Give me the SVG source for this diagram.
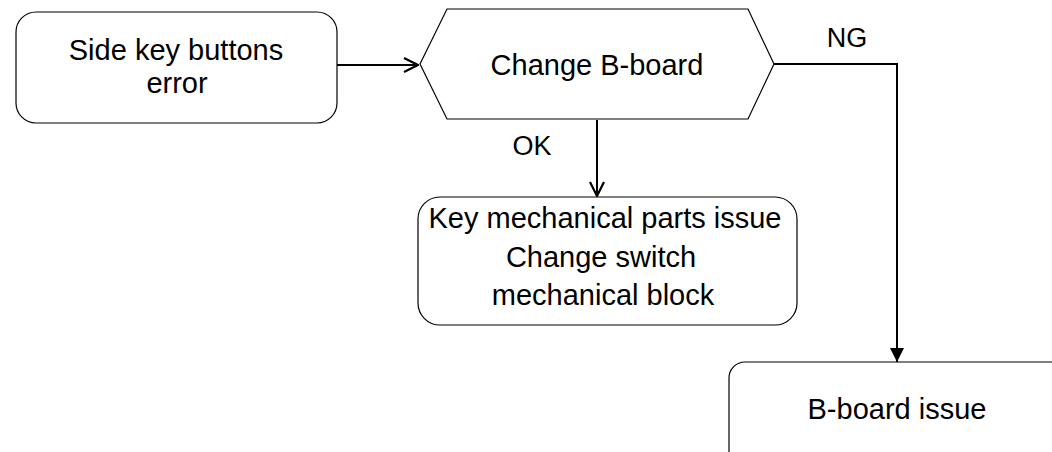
<svg xmlns="http://www.w3.org/2000/svg" width="1052" height="452" viewBox="0 0 1052 452">
<style>
.node{fill:#fff;stroke:#000;stroke-width:1.2}
.t{font-family:"Liberation Sans",Arial,sans-serif;font-size:29px;fill:#000;text-anchor:middle}
.lbl{font-family:"Liberation Sans",Arial,sans-serif;font-size:27px;fill:#000;text-anchor:middle}
.edge{fill:none;stroke:#000;stroke-width:2}
</style>
<defs>
<marker id="open" viewBox="0 0 16 16" refX="15" refY="8" markerWidth="16" markerHeight="16" markerUnits="userSpaceOnUse" orient="auto">
<path d="M1,1 L15,8 L1,15" fill="none" stroke="#000" stroke-width="2.2"/>
</marker>
<marker id="filled" viewBox="0 0 14 14" refX="14" refY="7" markerWidth="14" markerHeight="14" markerUnits="userSpaceOnUse" orient="auto">
<path d="M0,0 L14,7 L0,14 Z" fill="#000"/>
</marker>
</defs>
<rect width="1052" height="452" fill="#fff"/>
<g id="connectors">
<path class="edge" d="M337,65 L418,65" marker-end="url(#open)"/>
<path class="edge" d="M597,120 L597,196" marker-end="url(#open)"/>
<path class="edge" d="M774,64 L897,64 L897,362" marker-end="url(#filled)"/>
<text class="lbl" x="532" y="155">OK</text>
<text class="lbl" x="847" y="47">NG</text>
</g>
<g id="start">
<rect class="node" x="16" y="12" width="321" height="111" rx="20" ry="20"/>
<text class="t" x="176" y="60">Side key buttons</text>
<text class="t" x="177" y="93">error</text>
</g>
<g id="decision">
<polygon class="node" points="420,64 447,9 748,9 774,64 748,119 447,119"/>
<text class="t" x="597" y="75">Change B-board</text>
</g>
<g id="ok-result">
<rect class="node" x="418" y="197" width="379" height="128" rx="22" ry="22"/>
<text class="t" x="605" y="228">Key mechanical parts issue</text>
<text class="t" x="601" y="267">Change switch</text>
<text class="t" x="603" y="305">mechanical block</text>
</g>
<g id="ng-result">
<rect class="node" x="729" y="362" width="360" height="120" rx="16" ry="16"/>
<text class="t" x="897" y="419">B-board issue</text>
</g>
</svg>
